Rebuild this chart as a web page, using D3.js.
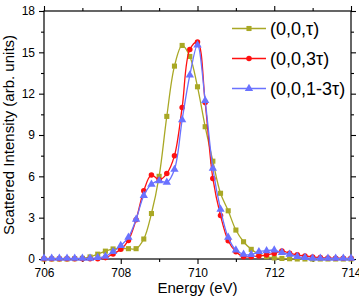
<!DOCTYPE html>
<html lang="en">
<head>
    <meta charset="utf-8">
    <title>Scattered Intensity</title>
    <script src="https://cdnjs.cloudflare.com/ajax/libs/d3/7.8.5/d3.min.js"></script>
    <style>
        body { margin: 0; background: #fff; }
        text { font-family: Arial, "Liberation Sans", sans-serif; fill: #000; }
    </style>
</head>
<body>
<div id="chart"></div>

<script>
    // energies (eV), 0.2 eV steps
    var energy = [706.0, 706.2, 706.4, 706.6, 706.8, 707.0, 707.2, 707.4, 707.6, 707.8,
                  708.0, 708.2, 708.4, 708.6, 708.8, 709.0, 709.2, 709.4, 709.6, 709.8,
                  710.0, 710.2, 710.4, 710.6, 710.8, 711.0, 711.2, 711.4, 711.6, 711.8,
                  712.0, 712.2, 712.4, 712.6, 712.8, 713.0, 713.2, 713.4, 713.6, 713.8, 714.0];

    var seriesNames = ['(0,0,\u03c4)', '(0,0,3\u03c4)', '(0,0,1-3\u03c4)'];

    var tau = [0, 0, 0, 0, 0.02, 0.05, 0.15, 0.35, 0.57, 0.73,
               0.75, 0.75, 0.75, 1.45, 3.3, 6.0, 10.35, 14.0, 15.5, 14.7,
               12.5, 9.6, 7.1, 4.77, 3.5, 2.1, 1.25, 0.7, 0.35, 0.17,
               0.08, 0.04, 0.02, 0, 0, 0, 0, 0, 0, 0, 0];

    var tau3 = [0.02, 0.02, 0.02, 0.02, 0.02, 0.02, 0.02, 0.02, 0.1, 0.36,
                0.7, 1.35, 2.85, 4.96, 6.1, 5.75, 6.2, 7.5, 11.0, 15.2,
                15.75, 11.35, 5.85, 3.15, 1.33, 0.53, 0.17, 0.17, 0.22, 0.3,
                0.4, 0.58, 0.42, 0.3, 0.22, 0.15, 0.1, 0.08, 0.06, 0.05, 0.05];

    var tau13 = [0.05, 0.05, 0.05, 0.05, 0.05, 0.05, 0.05, 0.1, 0.2, 0.53,
                 0.97, 1.57, 2.88, 4.6, 5.42, 5.68, 5.56, 6.5, 10.1, 13.35,
                 15.53, 11.5, 6.58, 3.6, 1.57, 0.65, 0.34, 0.32, 0.53, 0.6,
                 0.65, 0.46, 0.34, 0.18, 0.1, 0.05, 0.05, 0.05, 0.05, 0.05, 0.05];

    var xTicks = [706, 708, 710, 712, 714],
        xMinor = [707, 709, 711, 713],
        yTicks = [0, 3, 6, 9, 12, 15, 18],
        yMinor = [1.5, 4.5, 7.5, 10.5, 13.5, 16.5];

    var width = 359,
        height = 297,
        plotL = 44, plotR = 351, plotT = 11, plotB = 259;

    var svg = d3.select('#chart').append('svg')
        .attr('width', width)
        .attr('height', height);

    var x = d3.scaleLinear().domain([706, 714]).range([plotL, plotR]);
    var y = d3.scaleLinear().domain([0, 18]).range([plotB, plotT]);

    // axes: majors with labels, minors without, ticks outward on every side
    function axisGroup(axis, tx, ty, vals, size, labels) {
        var g = svg.append('g')
            .attr('transform', 'translate(' + tx + ',' + ty + ')')
            .call(axis.tickValues(vals).tickSize(size).tickSizeOuter(0)
                .tickPadding(4).tickFormat(labels ? d3.format('d') : ''));
        g.select('.domain').remove();
        g.selectAll('line').attr('stroke', '#000').attr('stroke-width', 1.1);
        g.selectAll('text').style('font-size', '12px')
            .style('font-family', 'Arial, "Liberation Sans", sans-serif');
        return g;
    }

    axisGroup(d3.axisBottom(x), 0, plotB, xTicks, 5, true);
    axisGroup(d3.axisBottom(x), 0, plotB, xMinor, 3, false);
    axisGroup(d3.axisTop(x), 0, plotT, xTicks, 5, false);
    axisGroup(d3.axisTop(x), 0, plotT, xMinor, 3, false);
    axisGroup(d3.axisLeft(y), plotL, 0, yTicks, 5, true);
    axisGroup(d3.axisLeft(y), plotL, 0, yMinor, 3, false);
    axisGroup(d3.axisRight(y), plotR, 0, yTicks, 5, false);
    axisGroup(d3.axisRight(y), plotR, 0, yMinor, 3, false);

    svg.append('rect')
        .attr('x', plotL).attr('y', plotT)
        .attr('width', plotR - plotL).attr('height', plotB - plotT)
        .attr('fill', 'none').attr('stroke', '#000').attr('stroke-width', 1.2);

    // series
    var colors = ['#a9a825', '#ff1010', '#6a72ff'],
        shapes = [d3.symbolSquare, d3.symbolCircle, d3.symbolTriangle],
        sizes = [26, 24, 30],
        values = [tau, tau3, tau13];

    var line = d3.line()
        .x(function(d) { return x(d[0]); })
        .y(function(d) { return y(d[1]); })
        .curve(d3.curveCatmullRom.alpha(0.5));

    values.forEach(function(vals, i) {
        var pts = energy.map(function(e, j) { return [e, vals[j]]; });
        var g = svg.append('g');

        g.append('path')
            .attr('d', line(pts))
            .attr('fill', 'none')
            .attr('stroke', colors[i])
            .attr('stroke-width', 1.3);

        g.selectAll('path.mark')
            .data(pts)
            .enter()
            .append('path')
            .attr('class', 'mark')
            .attr('transform', function(d) {
                return 'translate(' + x(d[0]) + ',' + y(d[1]) + ')';
            })
            .attr('d', d3.symbol().type(shapes[i]).size(sizes[i]))
            .attr('fill', colors[i]);
    });

    // legend
    var legend = svg.append('g');
    seriesNames.forEach(function(name, i) {
        var ly = 28.5 + i * 30;
        legend.append('line')
            .attr('x1', 232).attr('x2', 266)
            .attr('y1', ly).attr('y2', ly)
            .attr('stroke', colors[i]).attr('stroke-width', 1.3);
        legend.append('path')
            .attr('transform', 'translate(249,' + ly + ')')
            .attr('d', d3.symbol().type(shapes[i]).size(sizes[i]))
            .attr('fill', colors[i]);
        legend.append('text')
            .attr('x', 270).attr('y', ly + 6.5)
            .style('font-size', '18px')
            .text(name);
    });

    // axis titles
    svg.append('text')
        .attr('x', (plotL + plotR) / 2).attr('y', 293)
        .attr('text-anchor', 'middle')
        .style('font-size', '15px')
        .text('Energy (eV)');

    svg.append('text')
        .attr('transform', 'translate(14,' + (plotT + plotB) / 2 + ') rotate(-90)')
        .attr('text-anchor', 'middle')
        .style('font-size', '15px')
        .text('Scattered Intensity (arb. units)');
</script>
</body>
</html>
